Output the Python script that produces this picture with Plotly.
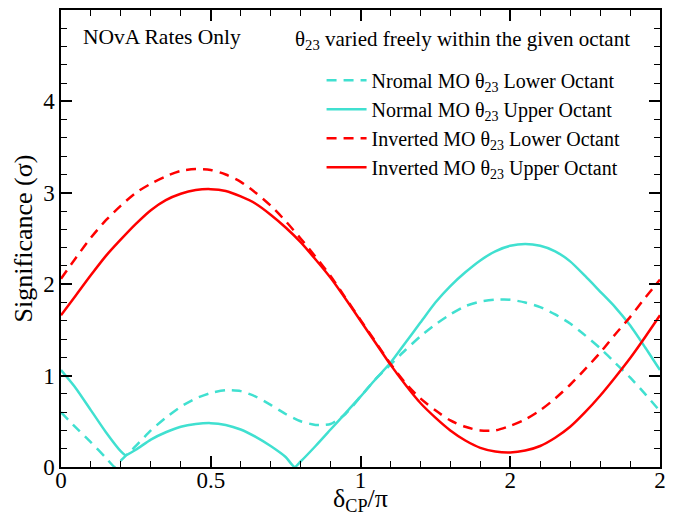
import plotly.graph_objects as go

# delta_CP / pi sample points
d_grid = [0.0, 0.05, 0.1, 0.15, 0.2, 0.25, 0.3, 0.35, 0.4, 0.45, 0.5, 0.55, 0.6, 0.65, 0.7,
          0.75, 0.8, 0.85, 0.9, 0.95, 1.0, 1.05, 1.1, 1.15, 1.2, 1.25, 1.3, 1.35, 1.4, 1.45,
          1.5, 1.55, 1.6, 1.65, 1.7, 1.75, 1.8, 1.85, 1.9, 1.95, 2.0]

# Inverted MO, upper octant
io_uo = [1.66, 1.88, 2.10, 2.31, 2.49, 2.66, 2.81, 2.92, 2.99, 3.03, 3.04, 3.02, 2.96, 2.88, 2.76,
         2.62, 2.46, 2.27, 2.07, 1.84, 1.60, 1.36, 1.12, 0.90, 0.70, 0.54, 0.40, 0.29, 0.21, 0.17,
         0.16, 0.18, 0.23, 0.32, 0.44, 0.60, 0.78, 0.98, 1.19, 1.42, 1.66]

# Inverted MO, lower octant
io_lo = [2.06, 2.29, 2.51, 2.70, 2.86, 3.00, 3.10, 3.18, 3.24, 3.26, 3.25, 3.20, 3.12, 3.00, 2.86,
         2.69, 2.50, 2.30, 2.09, 1.85, 1.61, 1.37, 1.13, 0.92, 0.75, 0.62, 0.51, 0.44, 0.40, 0.40,
         0.45, 0.52, 0.62, 0.75, 0.90, 1.07, 1.25, 1.45, 1.64, 1.85, 2.05]

# Normal MO, upper octant (with cusp points)
no_uo_x = [0.0, 0.05, 0.1, 0.15, 0.2, 0.215, 0.25, 0.3, 0.35, 0.4, 0.45, 0.5, 0.55, 0.6, 0.65,
           0.7, 0.75, 0.78, 0.8, 0.85, 0.9, 0.95, 1.0, 1.05, 1.1, 1.15, 1.2, 1.25, 1.3, 1.35,
           1.4, 1.45, 1.5, 1.55, 1.6, 1.65, 1.7, 1.75, 1.8, 1.85, 1.9, 1.95, 2.0]
no_uo = [1.06, 0.86, 0.62, 0.38, 0.17, 0.13, 0.19, 0.30, 0.38, 0.44, 0.47, 0.48, 0.46, 0.41, 0.33,
         0.23, 0.11, 0.00, 0.06, 0.23, 0.41, 0.59, 0.77, 0.96, 1.14, 1.36, 1.58, 1.80, 1.98, 2.13,
         2.26, 2.36, 2.42, 2.44, 2.42, 2.36, 2.25, 2.09, 1.92, 1.75, 1.55, 1.31, 1.06]

# Normal MO, lower octant (with cusp points)
no_lo_x = [0.0, 0.05, 0.1, 0.15, 0.18, 0.2, 0.25, 0.3, 0.35, 0.4, 0.45, 0.5, 0.55, 0.6, 0.65,
           0.7, 0.75, 0.8, 0.85, 0.88, 0.9, 0.95, 1.0, 1.05, 1.1, 1.15, 1.2, 1.25, 1.3, 1.35,
           1.4, 1.45, 1.5, 1.55, 1.6, 1.65, 1.7, 1.75, 1.8, 1.85, 1.9, 1.95, 2.0]
no_lo = [0.60, 0.43, 0.27, 0.10, 0.00, 0.07, 0.23, 0.40, 0.54, 0.66, 0.75, 0.81, 0.84, 0.83, 0.77,
         0.68, 0.58, 0.50, 0.46, 0.46, 0.47, 0.58, 0.77, 0.96, 1.12, 1.28, 1.43, 1.56, 1.67, 1.76,
         1.81, 1.83, 1.83, 1.80, 1.75, 1.67, 1.57, 1.44, 1.30, 1.14, 0.98, 0.80, 0.61]

x_tickvals = [0, 0.5, 1, 1.5, 2]
x_ticktext = ["0", "0.5", "1", "2", "2"]
y_tickvals = [0, 1, 2, 3, 4, 5]

CYAN = "#40E0D0"
RED = "#FF0000"
FONT = "Liberation Serif, Times New Roman, serif"
DASH = "10px,7px"
LW = 2.5

fig = go.Figure()
fig.add_trace(go.Scatter(x=no_lo_x, y=no_lo, mode="lines",
                         line=dict(color=CYAN, width=LW, dash=DASH, shape="spline", smoothing=0.6),
                         name="Nromal MO θ<sub>23</sub> Lower Octant"))
fig.add_trace(go.Scatter(x=no_uo_x, y=no_uo, mode="lines",
                         line=dict(color=CYAN, width=LW, shape="spline", smoothing=0.6),
                         name="Normal MO θ<sub>23</sub> Upper Octant"))
fig.add_trace(go.Scatter(x=d_grid, y=io_lo, mode="lines",
                         line=dict(color=RED, width=LW, dash=DASH, shape="spline", smoothing=0.8),
                         name="Inverted MO θ<sub>23</sub> Lower Octant"))
fig.add_trace(go.Scatter(x=d_grid, y=io_uo, mode="lines",
                         line=dict(color=RED, width=LW, shape="spline", smoothing=0.8),
                         name="Inverted MO θ<sub>23</sub> Upper Octant"))

axis_common = dict(showline=True, linecolor="black", linewidth=1.5, mirror="allticks",
                   ticks="inside", tickcolor="black", tickwidth=1.5, ticklen=11,
                   showgrid=False, zeroline=False,
                   tickfont=dict(family=FONT, size=23, color="black"))

fig.update_xaxes(range=[0, 2], tickvals=x_tickvals, ticktext=x_ticktext,
                 ticklabelstandoff=-8,
                 minor=dict(dtick=0.1, ticks="inside", ticklen=6, tickwidth=1.2, tickcolor="black"),
                 **axis_common)
fig.update_yaxes(range=[0, 5], tickvals=y_tickvals,
                 minor=dict(dtick=0.2, ticks="inside", ticklen=6, tickwidth=1.2, tickcolor="black"),
                 title=dict(text="Significance (σ)", font=dict(family=FONT, size=26, color="black"),
                            standoff=3),
                 **axis_common)

# x-axis title as annotation for precise placement
fig.add_annotation(text="δ<sub>CP</sub>/π", xref="paper", yref="paper", x=0.5, y=-0.072,
                   xanchor="center", yanchor="middle", showarrow=False,
                   font=dict(family=FONT, size=26, color="black"))

fig.add_annotation(text="NOvA Rates Only", xref="paper", yref="paper", x=0.033, y=0.941,
                   xanchor="left", yanchor="middle", showarrow=False,
                   font=dict(family=FONT, size=21.5, color="black"))
fig.add_annotation(text="θ<sub>23</sub> varied freely within the given octant",
                   xref="paper", yref="paper", x=0.388, y=0.935,
                   xanchor="left", yanchor="middle", showarrow=False,
                   font=dict(family=FONT, size=21, color="black"))

fig.update_layout(
    width=681, height=521,
    margin=dict(l=53, r=29, t=2, b=62, autoexpand=False),
    plot_bgcolor="white", paper_bgcolor="white",
    font=dict(family=FONT, color="black"),
    legend=dict(x=0.435, y=0.889, xanchor="left", yanchor="top",
                bgcolor="rgba(0,0,0,0)", font=dict(family=FONT, size=20, color="black"),
                tracegroupgap=0, itemwidth=40),
    showlegend=True,
)

fig.write_html("out.html")
